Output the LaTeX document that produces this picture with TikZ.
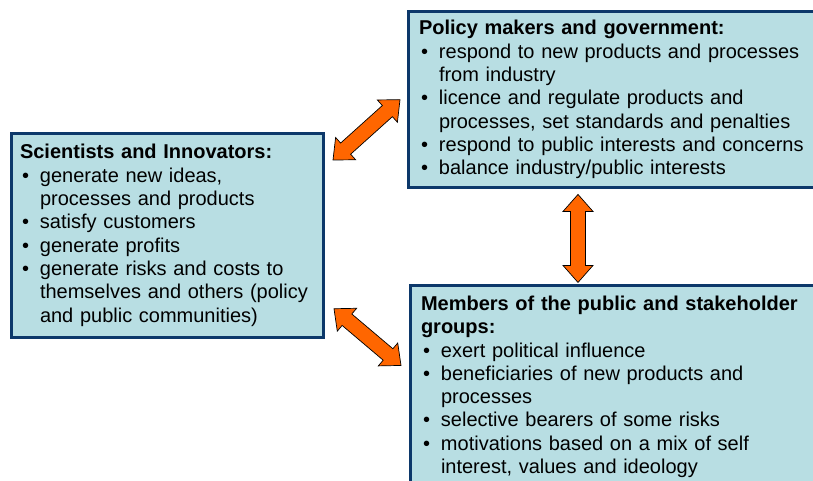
\documentclass[tikz,border=0pt]{standalone}
\usepackage{fontspec}
\setmainfont{Liberation Sans}
\usetikzlibrary{positioning,calc}

\definecolor{boxblue}{RGB}{184,222,227}
\definecolor{boxline}{RGB}{12,56,106}
\definecolor{arrowfill}{RGB}{255,102,0}

\newcommand{\bul}{\makebox[20pt][l]{\hspace{2pt}\textbullet}}
\newcommand{\ind}{\hspace*{20pt}}

% block arrow with two heads, tip to tip
\def\arwhead{17pt}
\def\arwhw{15pt}
\def\arwshw{7.5pt}
\newcommand{\dblarrow}[2]{%
  \draw[dblarrow] let \p1=(#1), \p2=(#2),
      \n1={atan2(\y2-\y1,\x2-\x1)} in
    (#1) -- ($(#1)+(\n1:\arwhead)+(\n1+90:\arwhw)$)
    -- ($(#1)+(\n1:\arwhead)+(\n1+90:\arwshw)$)
    -- ($(#2)+(\n1:-\arwhead)+(\n1+90:\arwshw)$)
    -- ($(#2)+(\n1:-\arwhead)+(\n1+90:\arwhw)$)
    -- (#2)
    -- ($(#2)+(\n1:-\arwhead)+(\n1-90:\arwhw)$)
    -- ($(#2)+(\n1:-\arwhead)+(\n1-90:\arwshw)$)
    -- ($(#1)+(\n1:\arwhead)+(\n1-90:\arwshw)$)
    -- ($(#1)+(\n1:\arwhead)+(\n1-90:\arwhw)$)
    -- cycle;}

\begin{document}
\begin{tikzpicture}[
    x=1pt, y=-1pt,
    infobox/.style={draw=boxline, fill=boxblue, line width=3pt,
        align=left, inner xsep=10.5pt, inner ysep=9pt,
        font=\fontsize{20pt}{23.3pt}\selectfont, anchor=north west},
    dblarrow/.style={draw=black, fill=arrowfill, line width=0.7pt,
        line join=miter}
]
\useasboundingbox (0,0) rectangle (813,481);

\node[infobox, text width=420pt] (pol) at (407,10)
    {\textbf{Policy makers and government:}\\
     \bul respond to new products and processes\\
     \ind from industry\\
     \bul licence and regulate products and\\
     \ind processes, set standards and penalties\\
     \bul respond to public interests and concerns\\
     \bul balance industry/public interests};

\node[infobox, text width=295pt, inner xsep=8.5pt, inner ysep=11pt] (sci)
    at (10,132)
    {\textbf{Scientists and Innovators:}\\
     \bul generate new ideas,\\
     \ind processes and products\\
     \bul satisfy customers\\
     \bul generate profits\\
     \bul generate risks and costs to\\
     \ind themselves and others (policy\\
     \ind and public communities)};

\node[infobox, text width=420pt, inner ysep=10pt,
      below=95pt of pol.south west, anchor=north west, xshift=2pt] (pub)
    {\textbf{Members of the public and stakeholder}\\
     \textbf{groups:}\\
     \bul exert political influence\\
     \bul beneficiaries of new products and\\
     \ind processes\\
     \bul selective bearers of some risks\\
     \bul motivations based on a mix of self\\
     \ind interest, values and ideology};

% arrow ends
\coordinate (up1) at ($(sci.north east)+(8,28)$);
\coordinate (up2) at ($(pol.west)+(-7,0)$);
\coordinate (lo1) at ($(sci.south east)+(9,-30)$);
\coordinate (lo2) at ($(pub.north west)+(-8,81)$);
\coordinate (ve1) at ($(pol.south west)+(171,5)$);
\coordinate (ve2) at ($(pub.north west)+(169,-2)$);

\dblarrow{up1}{up2}
\dblarrow{lo1}{lo2}
\dblarrow{ve1}{ve2}
\end{tikzpicture}
\end{document}
